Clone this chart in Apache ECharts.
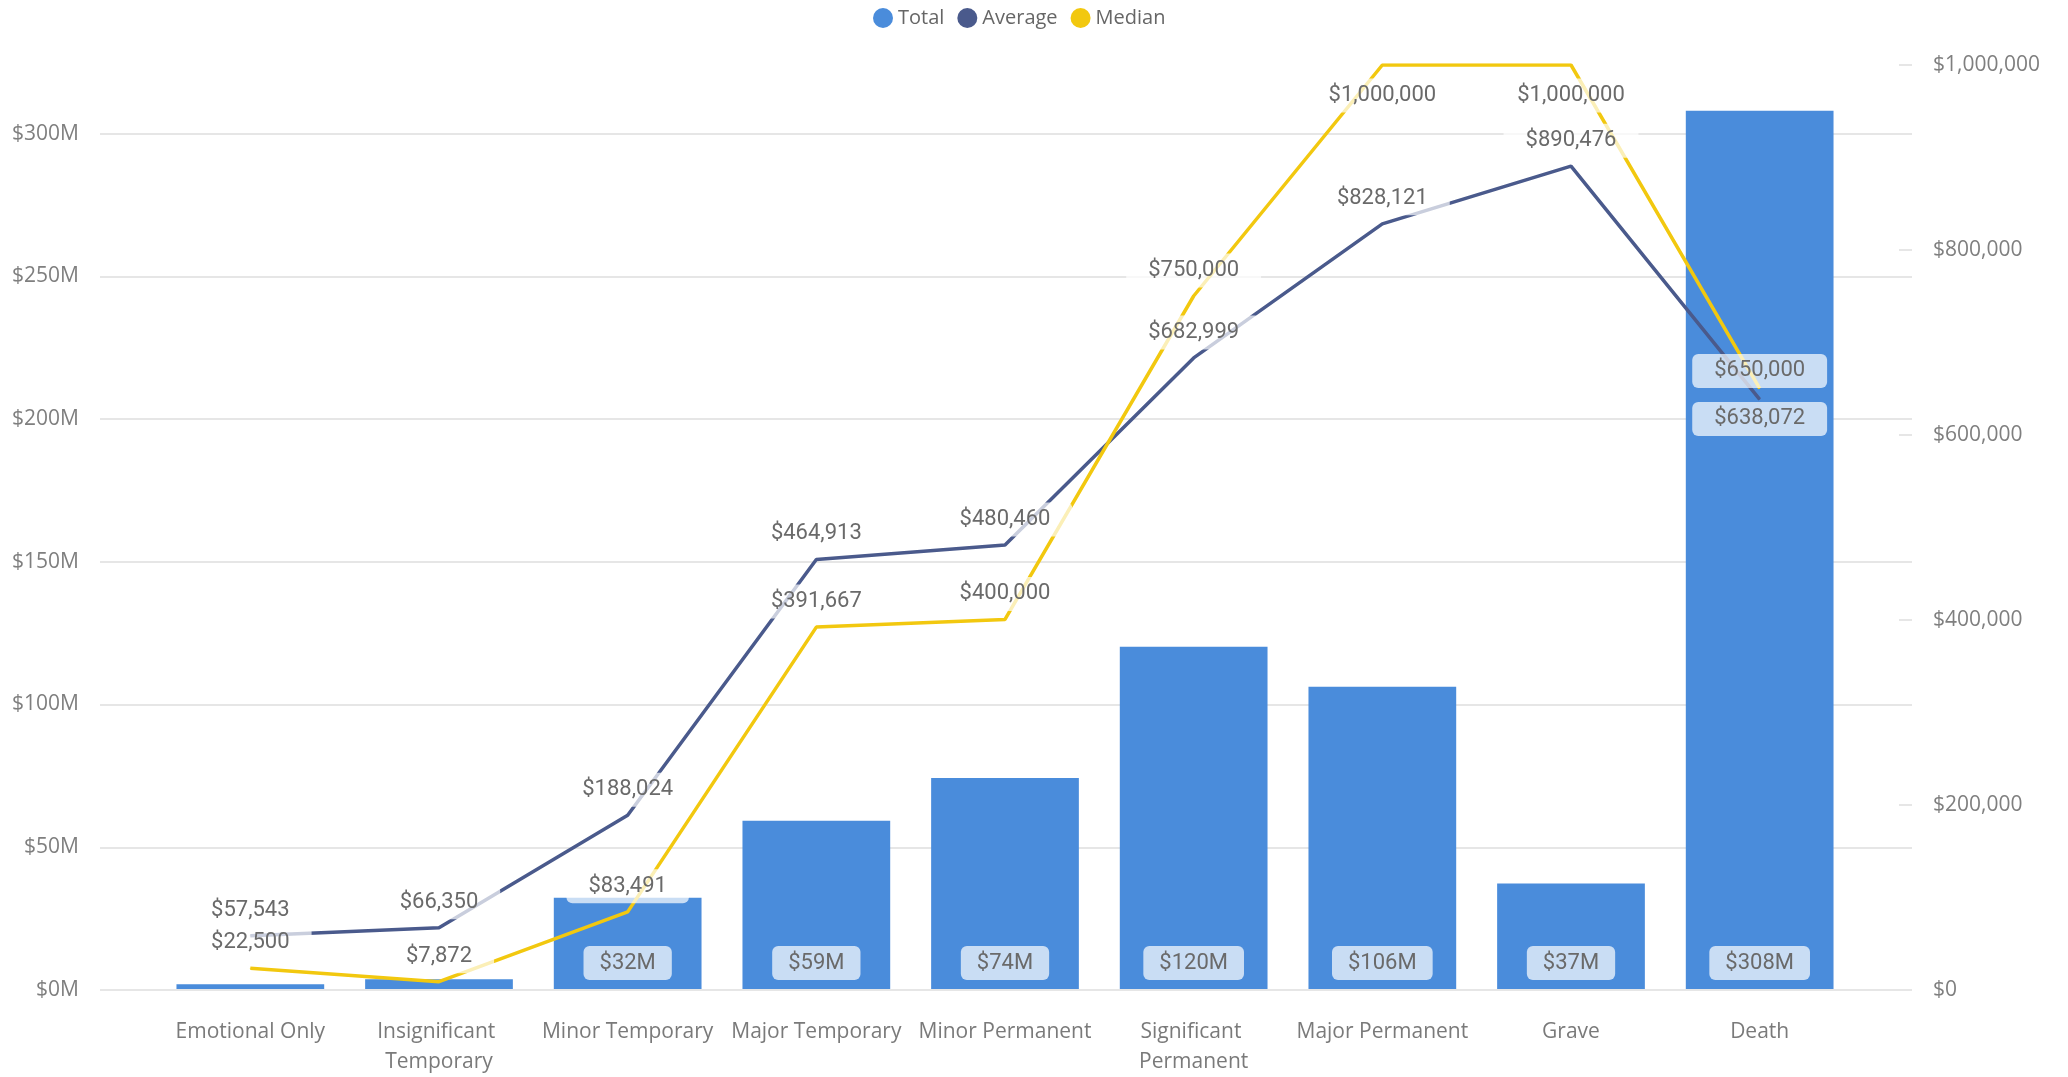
<!DOCTYPE html>
<html>
<head>
<meta charset="utf-8">
<script src="https://cdn.jsdelivr.net/npm/echarts@6/dist/echarts.min.js"></script>
<style>
html,body{margin:0;padding:0;background:#fff;}
#chart{width:2068px;height:1077px;}
</style>
</head>
<body>
<div id="chart"></div>
<script>
const categories = ["Emotional Only","Insignificant Temporary","Minor Temporary","Major Temporary","Minor Permanent","Significant Permanent","Major Permanent","Grave","Death"];
const totalValues = [1700000, 3400000, 32000000, 59000000, 74000000, 120000000, 106000000, 37000000, 308000000];
const averageValues = [57543, 66350, 188024, 464913, 480460, 682999, 828121, 890476, 638072];
const medianValues = [22500, 7872, 83491, 391667, 400000, 750000, 1000000, 1000000, 650000];
const leftTicks = [0, 50000000, 100000000, 150000000, 200000000, 250000000, 300000000];
const rightTicks = [0, 200000, 400000, 600000, 800000, 1000000];

const C_TOTAL = '#4a8cdb', C_AVG = '#4a5a8c', C_MED = '#f2c80f';
const axisFont = '"Open Sans", "Noto Sans", sans-serif';
const labelFont = 'Roboto, "Noto Sans", sans-serif';
const LEFT_MAX = 324000000, RIGHT_MAX = 1000000;

const fmtMoney = v => '$' + Math.round(v).toLocaleString('en-US');
const fmtM = v => '$' + Math.round(v / 1e6) + 'M';

const lineLabel = {
  show: true, position: 'top', distance: 8,
  fontFamily: labelFont, fontSize: 22, color: '#6a6a6a',
  backgroundColor: 'rgba(255,255,255,0.7)', borderRadius: 6,
  padding: [6, 22], lineHeight: 22,
  formatter: p => fmtMoney(p.value)
};

const medLabelOverride = {6: {position: 'bottom', distance: 13}, 7: {position: 'bottom', distance: 13}, 8: {position: 'top', distance: 0}};
const avgLabelOverride = {8: {position: 'bottom', distance: 2}};

const chart = echarts.init(document.getElementById('chart'));
chart.setOption({
  animation: false,
  legend: {
    left: 868, top: 3, itemWidth: 20, itemHeight: 20, itemGap: 13, icon: 'circle',
    textStyle: {fontFamily: axisFont, fontSize: 20, color: '#666'},
    data: ['Total', 'Average', 'Median']
  },
  grid: [
    {left: 100, right: 156, top: 65, bottom: 87},
    {left: 156, right: 214, top: 65, bottom: 87}
  ],
  xAxis: [
    {gridIndex: 0, type: 'value', show: false, min: 0, max: 1},
    {gridIndex: 1, type: 'category', data: categories,
     axisLine: {show: false}, axisTick: {show: false},
     axisLabel: {fontFamily: axisFont, fontSize: 21, color: '#7a7a7a', margin: 28, lineHeight: 30,
                 width: 178, overflow: 'break', interval: 0}}
  ],
  yAxis: [
    {gridIndex: 0, type: 'value', min: 0, max: LEFT_MAX, interval: leftTicks[1] - leftTicks[0],
     axisLine: {show: false}, axisTick: {show: false},
     axisLabel: {fontFamily: axisFont, fontSize: 21, color: '#7f7f7f', margin: 21, showMaxLabel: false,
                 formatter: v => leftTicks.includes(v) ? fmtM(v) : ''},
     splitLine: {show: true, showMaxLine: false, lineStyle: {color: '#e6e6e6', width: 2}}},
    {gridIndex: 0, type: 'value', position: 'right', min: 0, max: RIGHT_MAX, interval: rightTicks[1] - rightTicks[0],
     axisLine: {show: false},
     axisTick: {show: true, inside: true, length: 13, lineStyle: {color: '#e6e6e6', width: 2}},
     axisLabel: {fontFamily: axisFont, fontSize: 21, color: '#7f7f7f', margin: 21,
                 formatter: v => fmtMoney(v)},
     splitLine: {show: false}},
    {gridIndex: 1, type: 'value', show: false, min: 0, max: LEFT_MAX, splitLine: {show: false}},
    {gridIndex: 1, type: 'value', show: false, min: 0, max: RIGHT_MAX, splitLine: {show: false}}
  ],
  series: [
    {name: 'Total', type: 'bar', xAxisIndex: 1, yAxisIndex: 2, barWidth: '78.3%',
     itemStyle: {color: C_TOTAL},
     label: {show: true, position: 'insideBottom', distance: 9,
             fontFamily: labelFont, fontSize: 22, color: '#6a6a6a', lineHeight: 22,
             backgroundColor: 'rgba(255,255,255,0.7)', borderRadius: 6, padding: [6, 16],
             formatter: p => fmtM(p.value)},
     data: totalValues.map(v => v < 10000000 ? {value: v, label: {show: false}} : v)},
    {name: 'Average', type: 'line', xAxisIndex: 1, yAxisIndex: 3,
     symbol: 'circle', symbolSize: 1, itemStyle: {color: C_AVG},
     lineStyle: {color: C_AVG, width: 3.5}, label: lineLabel,
     data: averageValues.map((v, i) => avgLabelOverride[i] ? {value: v, label: avgLabelOverride[i]} : v)},
    {name: 'Median', type: 'line', xAxisIndex: 1, yAxisIndex: 3,
     symbol: 'circle', symbolSize: 1, itemStyle: {color: C_MED},
     lineStyle: {color: C_MED, width: 3.5}, label: lineLabel,
     data: medianValues.map((v, i) => medLabelOverride[i] ? {value: v, label: medLabelOverride[i]} : v)}
  ]
});
</script>
</body>
</html>
